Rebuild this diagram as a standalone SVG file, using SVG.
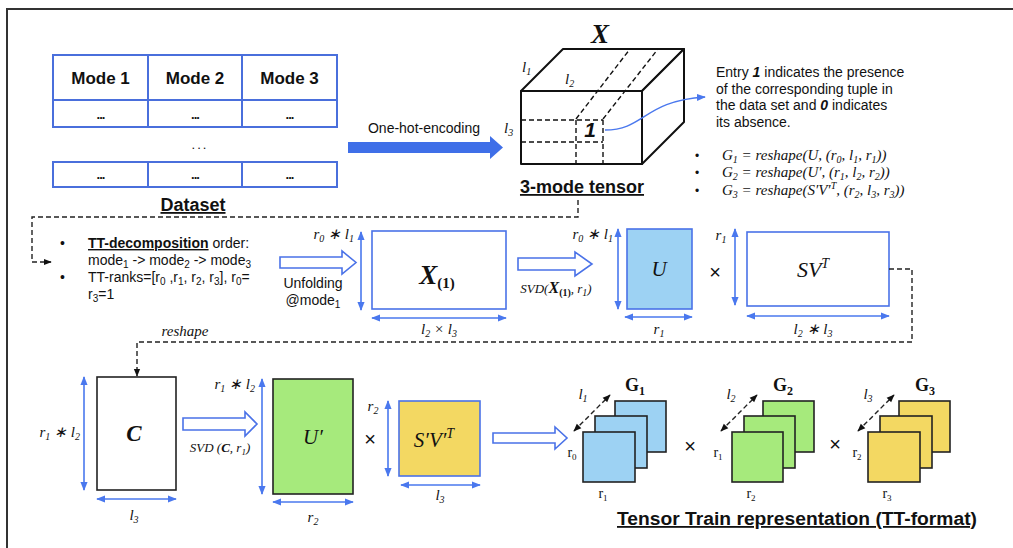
<svg xmlns="http://www.w3.org/2000/svg" width="1013" height="548" viewBox="0 0 1013 548">
  <style>
    .sans { font-family: "Liberation Sans", Arial, sans-serif; fill: #111; }
    .math { font-family: "Liberation Serif", "Times New Roman", serif; font-style: italic; fill: #111; }
    .rm { font-family: "Liberation Serif", "Times New Roman", serif; fill: #111; }
    .bu { font-weight: bold; text-decoration: underline; }
    .tbl { fill: #fff; stroke: #4a6fdc; stroke-width: 2; }
    .mat { stroke: #4a72e8; stroke-width: 1.6; }
    .dark { stroke: #222; stroke-width: 1.6; }
    .dim { stroke: #4a78ee; stroke-width: 1.6; fill: none; marker-start: url(#dimHead); marker-end: url(#dimHead); }
    .hollow { fill: #fff; stroke: #4a72e8; stroke-width: 1.6; }
    .dash { fill: none; stroke: #222; stroke-width: 1.4; stroke-dasharray: 5 3; }
    .cube { fill: #fff; stroke: #111; stroke-width: 2; stroke-linejoin: round; }
    .cubeDash { fill: none; stroke: #111; stroke-width: 1.4; stroke-dasharray: 5 3; }
    .blue { fill: #9dd2f3; }
    .green { fill: #a6ea7c; }
    .yellow { fill: #f3d862; }
    .core { stroke: #222; stroke-width: 1.6; }
  </style>
  <defs>
    <marker id="dimHead" viewBox="0 0 10 10" refX="9" refY="5" markerWidth="9" markerHeight="9" markerUnits="userSpaceOnUse" orient="auto-start-reverse">
      <path d="M0,1 L10,5 L0,9 Z" fill="#4a78ee"/>
    </marker>
    <marker id="blackHead" viewBox="0 0 10 10" refX="9" refY="5" markerWidth="8" markerHeight="8" markerUnits="userSpaceOnUse" orient="auto-start-reverse">
      <path d="M0,1 L10,5 L0,9 Z" fill="#111"/>
    </marker>
    <marker id="blueHead" viewBox="0 0 10 10" refX="9" refY="5" markerWidth="9" markerHeight="9" markerUnits="userSpaceOnUse" orient="auto">
      <path d="M0,1 L10,5 L0,9 Z" fill="#4a78ee"/>
    </marker>
  </defs>

  <rect width="1013" height="548" fill="#fff"/>
  <!-- page frame -->
  <path d="M7,548 V9 H1013" fill="none" stroke="#333" stroke-width="2"/>

  <!-- dataset table -->
  <g id="dataset">
    <rect class="tbl" x="53" y="55" width="284" height="45"/>
    <rect class="tbl" x="53" y="100" width="284" height="27"/>
    <path d="M148,55 V127 M242,55 V127" stroke="#4a6fdc" stroke-width="2"/>
    <rect class="tbl" x="53" y="162" width="284" height="25"/>
    <path d="M148,162 V187 M242,162 V187" stroke="#4a6fdc" stroke-width="2"/>
    <g class="sans" font-size="17" font-weight="bold" text-anchor="middle">
      <text x="100.5" y="84">Mode 1</text>
      <text x="195" y="84">Mode 2</text>
      <text x="289.5" y="84">Mode 3</text>
    </g>
    <g class="sans" font-size="13" font-weight="bold" text-anchor="middle" letter-spacing="-1">
      <text x="100.5" y="119">...</text>
      <text x="195" y="119">...</text>
      <text x="289.5" y="119">...</text>
      <text x="100.5" y="179">...</text>
      <text x="195" y="179">...</text>
      <text x="289.5" y="179">...</text>
    </g>
    <text class="sans" x="200" y="149" font-size="13" text-anchor="middle" letter-spacing="2">...</text>
    <text class="sans bu" x="193" y="211" font-size="18" text-anchor="middle">Dataset</text>
  </g>

  <!-- one-hot-encoding arrow -->
  <g id="encode">
    <path d="M348,142 H490 V136 L503,147.5 L490,159 V153 H348 Z" fill="#3f6fe8"/>
    <text class="sans" x="424" y="133" font-size="14" text-anchor="middle">One-hot-encoding</text>
  </g>

  <!-- 3-mode tensor cube -->
  <g id="tensor">
    <polygon class="cube" points="521,91 563,49 684,49 642,91"/>
    <polygon class="cube" points="642,91 684,49 684,122 642,164"/>
    <rect class="cube" x="521" y="91" width="121" height="73"/>
    <path class="cubeDash" d="M521,120 H603 M521,142 H603 M576,120 V164 M603,120 V164 M576,119 L630,49 M603,119 L658,49"/>
    <text class="math" x="600" y="43" font-size="27" font-weight="bold" text-anchor="middle">X</text>
    <text class="math" x="522" y="72" font-size="15">l<tspan dy="3" font-size="10">1</tspan></text>
    <text class="math" x="565" y="84" font-size="15">l<tspan dy="3" font-size="10">2</tspan></text>
    <text class="math" x="504" y="133" font-size="15">l<tspan dy="3" font-size="10">3</tspan></text>
    <text class="sans" x="590" y="137" font-size="21" font-weight="bold" font-style="italic" text-anchor="middle">1</text>
    <path d="M605,130 C645,130 643,101 705,97" fill="none" stroke="#4a78ee" stroke-width="1.4" marker-end="url(#blueHead)"/>
    <text class="sans bu" x="582" y="193" font-size="18" text-anchor="middle">3-mode tensor</text>
  </g>

  <!-- note on entries and core reshaping -->
  <g id="notes">
    <g class="sans" font-size="14">
      <text x="716" y="77">Entry <tspan font-weight="bold" font-style="italic">1</tspan> indicates the presence</text>
      <text x="716" y="93.5">of the corresponding tuple in</text>
      <text x="716" y="110">the data set and <tspan font-weight="bold" font-style="italic">0</tspan> indicates</text>
      <text x="716" y="127">its absence.</text>
    </g>
    <g class="sans" font-size="12">
      <text x="695" y="160">•</text>
      <text x="695" y="177">•</text>
      <text x="695" y="195">•</text>
    </g>
    <g class="math" font-size="15">
      <text x="722" y="160">G<tspan dy="3" font-size="10">1</tspan><tspan dy="-3"> = reshape(U, (r</tspan><tspan dy="3" font-size="10">0</tspan><tspan dy="-3">, l</tspan><tspan dy="3" font-size="10">1</tspan><tspan dy="-3">, r</tspan><tspan dy="3" font-size="10">1</tspan><tspan dy="-3">))</tspan></text>
      <text x="722" y="177">G<tspan dy="3" font-size="10">2</tspan><tspan dy="-3"> = reshape(U′, (r</tspan><tspan dy="3" font-size="10">1</tspan><tspan dy="-3">, l</tspan><tspan dy="3" font-size="10">2</tspan><tspan dy="-3">, r</tspan><tspan dy="3" font-size="10">2</tspan><tspan dy="-3">))</tspan></text>
      <text x="722" y="195">G<tspan dy="3" font-size="10">3</tspan><tspan dy="-3"> = reshape(S′V′</tspan><tspan dy="-6" font-size="10">T</tspan><tspan dy="6">, (r</tspan><tspan dy="3" font-size="10">2</tspan><tspan dy="-3">, l</tspan><tspan dy="3" font-size="10">3</tspan><tspan dy="-3">, r</tspan><tspan dy="3" font-size="10">3</tspan><tspan dy="-3">))</tspan></text>
    </g>
  </g>

  <!-- decomposition settings -->
  <g id="settings" class="sans" font-size="14">
    <text x="60" y="248">•</text>
    <text x="88" y="248"><tspan class="bu">TT-decomposition</tspan>  order:</text>
    <text x="88" y="265">mode<tspan dy="3" font-size="10">1</tspan><tspan dy="-3"> -&gt; mode</tspan><tspan dy="3" font-size="10">2</tspan><tspan dy="-3"> -&gt; mode</tspan><tspan dy="3" font-size="10">3</tspan></text>
    <text x="60" y="282">•</text>
    <text x="88" y="282">TT-ranks=[r<tspan dy="3" font-size="10">0</tspan><tspan dy="-3"> ,r</tspan><tspan dy="3" font-size="10">1</tspan><tspan dy="-3">, r</tspan><tspan dy="3" font-size="10">2</tspan><tspan dy="-3">, r</tspan><tspan dy="3" font-size="10">3</tspan><tspan dy="-3">], r</tspan><tspan dy="3" font-size="10">0</tspan><tspan dy="-3">=</tspan></text>
    <text x="88" y="299">r<tspan dy="3" font-size="10">3</tspan><tspan dy="-3">=1</tspan></text>
  </g>

  <!-- unfolding -->
  <g id="unfold">
    <path class="hollow" d="M280,257 H342 V251 L356,262.5 L342,274 V268 H280 Z"/>
    <text class="sans" x="313" y="288" font-size="14" text-anchor="middle">Unfolding</text>
    <text class="sans" x="313" y="305" font-size="14" text-anchor="middle">@mode<tspan dy="3" font-size="10">1</tspan></text>
  </g>

  <!-- unfolded matrix X(1) -->
  <g id="x1">
    <rect class="mat" x="372" y="231" width="134" height="78" fill="#fff"/>
    <text x="437" y="284" text-anchor="middle"><tspan class="math" font-size="27" font-weight="bold">X</tspan><tspan class="rm" font-size="15" font-weight="bold" dy="4">(1)</tspan></text>
    <path class="dim" d="M361,232 V310"/>
    <text class="math" x="354" y="239" font-size="15" text-anchor="end">r<tspan dy="3" font-size="10">0</tspan><tspan dy="-3"> ∗ l</tspan><tspan dy="3" font-size="10">1</tspan></text>
    <path class="dim" d="M372,318 H506"/>
    <text class="math" x="439" y="334" font-size="15" text-anchor="middle">l<tspan dy="3" font-size="10">2</tspan><tspan dy="-3"> × l</tspan><tspan dy="3" font-size="10">3</tspan></text>
  </g>

  <!-- first SVD -->
  <g id="svd1">
    <path class="hollow" d="M518,258 H575 V252 L592,264 L575,276 V270 H518 Z"/>
    <text x="556" y="293" font-size="13" text-anchor="middle"><tspan class="math">SVD(</tspan><tspan class="math" font-weight="bold" font-size="16">X</tspan><tspan class="rm" font-weight="bold" font-size="10" dy="3">(1)</tspan><tspan class="math" dy="-3">, r</tspan><tspan class="math" font-size="10" dy="3">1</tspan><tspan class="math" dy="-3">)</tspan></text>
  </g>

  <!-- U -->
  <g id="u">
    <rect class="mat blue" x="627" y="229" width="65" height="80"/>
    <text class="math" x="659" y="276" font-size="21" text-anchor="middle">U</text>
    <path class="dim" d="M618,229 V309"/>
    <text class="math" x="613" y="239" font-size="15" text-anchor="end">r<tspan dy="3" font-size="10">0</tspan><tspan dy="-3"> ∗ l</tspan><tspan dy="3" font-size="10">1</tspan></text>
    <path class="dim" d="M625,317 H692"/>
    <text class="math" x="659" y="334" font-size="15" text-anchor="middle">r<tspan dy="3" font-size="10">1</tspan></text>
  </g>

  <text class="sans" x="715" y="279" font-size="20" text-anchor="middle">×</text>

  <!-- SV^T -->
  <g id="svt">
    <rect class="mat" x="747" y="232" width="142" height="74" fill="#fff"/>
    <text class="math" x="813" y="277" font-size="22" text-anchor="middle">SV<tspan dy="-9" font-size="14">T</tspan></text>
    <path class="dim" d="M735,229 V305"/>
    <text class="math" x="721" y="240" font-size="15" text-anchor="middle">r<tspan dy="3" font-size="10">1</tspan></text>
    <path class="dim" d="M747,316 H889"/>
    <text class="math" x="813" y="334" font-size="15" text-anchor="middle">l<tspan dy="3" font-size="10">2</tspan><tspan dy="-3"> ∗ l</tspan><tspan dy="3" font-size="10">3</tspan></text>
  </g>

  <!-- C -->
  <g id="c">
    <rect class="dark" x="97" y="377" width="79" height="113" fill="#fff"/>
    <text class="math" x="134" y="441" font-size="23" font-weight="bold" text-anchor="middle">C</text>
    <path class="dim" d="M84,377 V490"/>
    <text class="math" x="80" y="437" font-size="15" text-anchor="end">r<tspan dy="3" font-size="10">1</tspan><tspan dy="-3"> ∗ l</tspan><tspan dy="3" font-size="10">2</tspan></text>
    <path class="dim" d="M97,499 H176"/>
    <text class="math" x="134" y="520" font-size="15" text-anchor="middle">l<tspan dy="3" font-size="10">3</tspan></text>
  </g>

  <!-- second SVD -->
  <g id="svd2">
    <path class="hollow" d="M183,418 H245 V412 L257,424 L245,436 V430 H183 Z"/>
    <text class="math" x="220" y="452" font-size="13" text-anchor="middle">SVD (<tspan font-weight="bold">C</tspan>, r<tspan dy="3" font-size="9">1</tspan><tspan dy="-3">)</tspan></text>
  </g>

  <!-- U' -->
  <g id="u2">
    <rect class="dark green" x="273" y="379" width="80" height="115"/>
    <text class="math" x="313" y="444" font-size="21" text-anchor="middle">U′</text>
    <path class="dim" d="M262,379 V494"/>
    <text class="math" x="255" y="389" font-size="15" text-anchor="end">r<tspan dy="3" font-size="10">1</tspan><tspan dy="-3"> ∗ l</tspan><tspan dy="3" font-size="10">2</tspan></text>
    <path class="dim" d="M273,502 H353"/>
    <text class="math" x="313" y="522" font-size="15" text-anchor="middle">r<tspan dy="3" font-size="10">2</tspan></text>
  </g>

  <text class="sans" x="370" y="446" font-size="20" text-anchor="middle">×</text>

  <!-- S'V'^T -->
  <g id="svt2">
    <rect class="mat yellow" x="399" y="401" width="81" height="75"/>
    <text class="math" x="434" y="447" font-size="21" text-anchor="middle">S′V′<tspan dy="-9" font-size="14">T</tspan></text>
    <path class="dim" d="M388,401 V476"/>
    <text class="math" x="373" y="411" font-size="15" text-anchor="middle">r<tspan dy="3" font-size="10">2</tspan></text>
    <path class="dim" d="M401,485 H480"/>
    <text class="math" x="440" y="500" font-size="15" text-anchor="middle">l<tspan dy="3" font-size="10">3</tspan></text>
  </g>

  <!-- to TT-format -->
  <path class="hollow" d="M493,433 H555 V427 L567,438 L555,449 V443 H493 Z"/>

  <!-- core G1 -->
  <g id="g1">
    <rect class="core blue" x="615" y="401" width="51" height="51"/>
    <rect class="core blue" x="595" y="416" width="52" height="52"/>
    <rect class="core blue" x="583" y="432" width="52" height="50"/>
    <path class="dash" d="M574,431 L610,395" marker-start="url(#blackHead)" marker-end="url(#blackHead)"/>
    <text class="rm" x="635" y="391" font-size="18" font-weight="bold" text-anchor="middle">G<tspan dy="4" font-size="12">1</tspan></text>
    <text class="math" x="583" y="399" font-size="15" text-anchor="middle">l<tspan dy="3" font-size="10">1</tspan></text>
    <text class="rm" x="572" y="457" font-size="14" text-anchor="middle">r<tspan dy="3" font-size="9">0</tspan></text>
    <text class="rm" x="603" y="498" font-size="14" text-anchor="middle">r<tspan dy="3" font-size="9">1</tspan></text>
  </g>

  <text class="sans" x="690" y="453" font-size="20" text-anchor="middle">×</text>

  <!-- core G2 -->
  <g id="g2">
    <rect class="core green" x="763" y="401" width="51" height="51"/>
    <rect class="core green" x="744" y="416" width="51" height="52"/>
    <rect class="core green" x="732" y="432" width="51" height="50"/>
    <path class="dash" d="M721,431 L757,395" marker-start="url(#blackHead)" marker-end="url(#blackHead)"/>
    <text class="rm" x="783" y="391" font-size="18" font-weight="bold" text-anchor="middle">G<tspan dy="4" font-size="12">2</tspan></text>
    <text class="math" x="731" y="399" font-size="15" text-anchor="middle">l<tspan dy="3" font-size="10">2</tspan></text>
    <text class="rm" x="718" y="457" font-size="14" text-anchor="middle">r<tspan dy="3" font-size="9">1</tspan></text>
    <text class="rm" x="751" y="498" font-size="14" text-anchor="middle">r<tspan dy="3" font-size="9">2</tspan></text>
  </g>

  <text class="sans" x="835" y="451" font-size="20" text-anchor="middle">×</text>

  <!-- core G3 -->
  <g id="g3">
    <rect class="core yellow" x="899" y="401" width="51" height="51"/>
    <rect class="core yellow" x="880" y="416" width="52" height="52"/>
    <rect class="core yellow" x="868" y="432" width="52" height="50"/>
    <path class="dash" d="M858,431 L894,395" marker-start="url(#blackHead)" marker-end="url(#blackHead)"/>
    <text class="rm" x="925" y="391" font-size="18" font-weight="bold" text-anchor="middle">G<tspan dy="4" font-size="12">3</tspan></text>
    <text class="math" x="868" y="399" font-size="15" text-anchor="middle">l<tspan dy="3" font-size="10">3</tspan></text>
    <text class="rm" x="857" y="457" font-size="14" text-anchor="middle">r<tspan dy="3" font-size="9">2</tspan></text>
    <text class="rm" x="887" y="498" font-size="14" text-anchor="middle">r<tspan dy="3" font-size="9">3</tspan></text>
  </g>

  <text class="sans bu" x="617" y="525" font-size="18" textLength="360" lengthAdjust="spacingAndGlyphs">Tensor Train representation (TT-format)</text>

  <!-- dashed flow connectors -->
  <g id="connectors">
    <path class="dash" d="M578,200 V217 H32 V262 H51" marker-end="url(#blackHead)"/>
    <path class="dash" d="M889,269 H912 V342 H137 V376" marker-end="url(#blackHead)"/>
    <text class="math" x="185" y="336" font-size="15" text-anchor="middle">reshape</text>
  </g>
</svg>
